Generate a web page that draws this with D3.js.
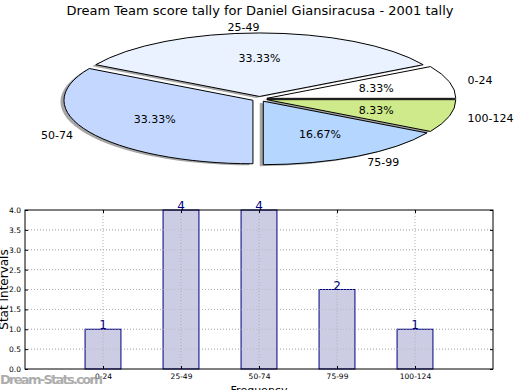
<!DOCTYPE html>
<html lang="en">
<head>
    <meta charset="UTF-8">
    <title>dream team score tally</title>
    <script type="text/javascript" src="https://d3js.org/d3.v7.min.js"></script>
    <style>
        body { margin: 0; background: #fff; }
        text { font-family: "DejaVu Sans", sans-serif; }
    </style>
</head>
<body>
<svg class="tally"></svg>

<script type="text/javascript">

    const width = 520;
    const height = 390;

    // data
    const categories = ["0-24", "25-49", "50-74", "75-99", "100-124"];
    const counts = [1, 4, 4, 2, 1];
    const sliceColors = ["#ffffff", "#eaf2ff", "#c4d8ff", "#b4d6ff", "#ceea8a"];
    const yTicks = [0, 0.5, 1, 1.5, 2, 2.5, 3, 3.5, 4];
    const title = "Dream Team score tally for Daniel Giansiracusa - 2001 tally";

    let svg = d3.select(".tally")
        .attr("width", width)
        .attr("height", height);

    svg.append("text")
        .attr("x", 260)
        .attr("y", 15)
        .attr("text-anchor", "middle")
        .style("font-size", "13px")
        .text(title);

    drawPie();
    drawBars();

    function drawPie() {
        const cx = 259.5, cy = 99, rx = 189, ry = 63.5;
        const explode = 0.04;
        const total = d3.sum(counts);

        // matplotlib style: start at 3 o'clock, go counter-clockwise
        let pie = d3.pie().sort(null)
            .startAngle(Math.PI / 2)
            .endAngle(Math.PI / 2 - 2 * Math.PI);
        let arcs = pie(counts);
        let arc = d3.arc().innerRadius(0).outerRadius(1);

        function off(d, k) {
            let mid = (d.startAngle + d.endAngle) / 2;
            return [Math.sin(mid) * k, -Math.cos(mid) * k];
        }

        let g = svg.append("g");

        // shadow
        g.selectAll("path.shadow").data(arcs).enter().append("path")
            .attr("class", "shadow")
            .attr("d", arc)
            .attr("transform", function (d) {
                let o = off(d, explode);
                return "translate(" + (cx + o[0] * rx - 3.5) + "," + (cy + o[1] * ry + 1.5) + ") scale(" + rx + "," + ry + ")";
            })
            .style("fill", "#000")
            .style("opacity", 0.35);

        g.selectAll("path.slice").data(arcs).enter().append("path")
            .attr("class", "slice")
            .attr("d", arc)
            .attr("transform", function (d) {
                let o = off(d, explode);
                return "translate(" + (cx + o[0] * rx) + "," + (cy + o[1] * ry) + ") scale(" + rx + "," + ry + ")";
            })
            .attr("vector-effect", "non-scaling-stroke")
            .style("fill", (d, i) => sliceColors[i])
            .style("stroke", "#000")
            .style("stroke-width", 1);

        // category labels at 1.1 radius
        g.selectAll("text.lab").data(arcs).enter().append("text")
            .attr("class", "lab")
            .attr("x", d => cx + off(d, 1.1 + explode)[0] * rx)
            .attr("y", d => cy + off(d, 1.1 + explode)[1] * ry + 4)
            .attr("text-anchor", d => off(d, 1)[0] < 0.001 ? "end" : "start")
            .style("font-size", "11px")
            .text((d, i) => categories[i]);

        // percentages at 0.6 radius
        g.selectAll("text.pct").data(arcs).enter().append("text")
            .attr("class", "pct")
            .attr("x", d => cx + off(d, 0.6 + explode)[0] * rx)
            .attr("y", d => cy + off(d, 0.6 + explode)[1] * ry + 4)
            .attr("text-anchor", "middle")
            .style("font-size", "11px")
            .text(d => (d.value / total * 100).toFixed(2) + "%");
    }

    function drawBars() {
        const left = 25, right = 493, top = 210, bottom = 369;

        let scaleX = d3.scaleLinear().domain([0, categories.length + 1]).range([left, right]);
        let scaleY = d3.scaleLinear().domain([0, 4]).range([bottom, top]);

        let g = svg.append("g");
        let barW = scaleX(0.46) - scaleX(0);

        // dotted grid
        g.selectAll("line.gy").data(yTicks.slice(1, -1)).enter().append("line")
            .attr("x1", left).attr("x2", right)
            .attr("y1", d => scaleY(d)).attr("y2", d => scaleY(d))
            .style("stroke", "#b0b0b0").style("stroke-dasharray", "1,2");
        g.selectAll("line.gx").data(categories).enter().append("line")
            .attr("x1", (d, i) => scaleX(i + 1)).attr("x2", (d, i) => scaleX(i + 1))
            .attr("y1", top).attr("y2", bottom)
            .style("stroke", "#b0b0b0").style("stroke-dasharray", "1,2");

        g.selectAll("rect").data(counts).enter().append("rect")
            .attr("x", (d, i) => scaleX(i + 1) - barW / 2)
            .attr("y", d => scaleY(d))
            .attr("width", barW)
            .attr("height", d => bottom - scaleY(d))
            .style("fill", "#ccccE5")
            .style("stroke", "#000080");

        // grid drawn above the bars as well
        g.selectAll("line.gx2").data(counts).enter().append("line")
            .attr("x1", (d, i) => scaleX(i + 1)).attr("x2", (d, i) => scaleX(i + 1))
            .attr("y1", d => scaleY(d)).attr("y2", bottom)
            .style("stroke", "#b0b0b0").style("stroke-dasharray", "1,2");
        g.selectAll("line.gy2").data(yTicks.slice(1, -1)).enter().append("line")
            .attr("x1", left).attr("x2", right)
            .attr("y1", d => scaleY(d)).attr("y2", d => scaleY(d))
            .style("stroke", "#b0b0b0").style("stroke-dasharray", "1,2")
            .style("opacity", 0.6);

        g.selectAll("text.val").data(counts).enter().append("text")
            .attr("x", (d, i) => scaleX(i + 1))
            .attr("y", d => scaleY(d))
            .attr("text-anchor", "middle")
            .style("font-size", "12px")
            .style("fill", "#000080")
            .text(d => d);

        g.append("rect")
            .attr("x", left).attr("y", top)
            .attr("width", right - left).attr("height", bottom - top)
            .style("fill", "none").style("stroke", "#000");

        // axes, ticks pointing inward
        let yAxisL = d3.axisLeft(scaleY).tickValues(yTicks).tickSize(-3).tickPadding(4)
            .tickFormat(d3.format(".1f"));
        let yAxisR = d3.axisRight(scaleY).tickValues(yTicks).tickSize(-3).tickFormat("");
        let xAxisB = d3.axisBottom(scaleX).tickValues([1, 2, 3, 4, 5]).tickSize(-3).tickPadding(5)
            .tickFormat(d => categories[d - 1]);
        let xAxisT = d3.axisTop(scaleX).tickValues([1, 2, 3, 4, 5]).tickSize(-3).tickFormat("");

        [[yAxisL, "translate(" + left + ",0)"], [yAxisR, "translate(" + right + ",0)"],
            [xAxisB, "translate(0," + bottom + ")"], [xAxisT, "translate(0," + top + ")"]].forEach(function (a) {
            let ax = svg.append("g").attr("transform", a[1]).call(a[0]);
            ax.select(".domain").remove();
            ax.selectAll("line").style("stroke", "#000");
            ax.selectAll("text").style("font-size", "7.5px").style("font-family", "DejaVu Sans");
        });

        svg.append("text")
            .attr("transform", "translate(8," + ((top + bottom) / 2) + ") rotate(-90)")
            .attr("text-anchor", "middle")
            .style("font-size", "12px")
            .text("Stat Intervals");

        svg.append("text")
            .attr("x", (left + right) / 2)
            .attr("y", 394)
            .attr("text-anchor", "middle")
            .style("font-size", "11px")
            .text("Frequency");

        svg.append("text")
            .attr("x", 0)
            .attr("y", 384)
            .attr("textLength", 103)
            .style("font-size", "13px")
            .style("font-weight", "bold")
            .style("fill", "#999")
            .style("opacity", 0.8)
            .text("Dream-Stats.com");
    }

</script>

</body>
</html>
